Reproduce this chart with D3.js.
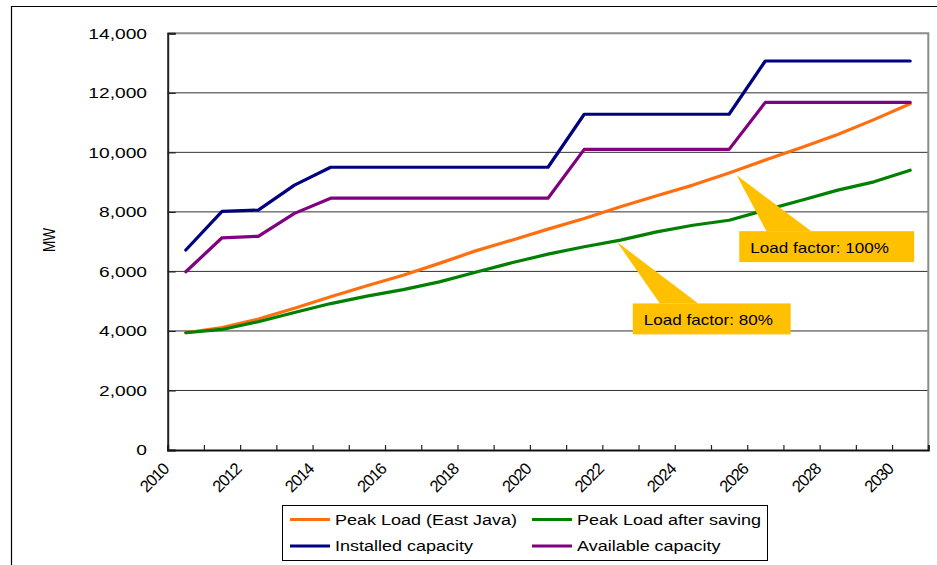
<!DOCTYPE html>
<html>
<head>
<meta charset="utf-8">
<script src="https://cdn.jsdelivr.net/npm/d3@7"></script>
<style>
  html, body { margin: 0; padding: 0; background: #fff; }
  svg { display: block; font-family: "Liberation Sans", Arial, sans-serif; }
</style>
</head>
<body>
<svg id="chart" width="937" height="565"></svg>
<script>
// East Java capacity vs. peak load, 2010-2030 (MW)
const years = d3.range(2010, 2031);
const peakLoad      = [3940, 4110, 4400, 4760, 5150, 5520, 5870, 6270, 6690, 7050, 7420, 7780, 8170, 8540, 8900, 9310, 9740, 10160, 10600, 11100, 11630];
const peakAfterSave = [3940, 4050, 4310, 4620, 4920, 5170, 5390, 5650, 5970, 6290, 6580, 6830, 7050, 7330, 7550, 7720, 8060, 8390, 8730, 9010, 9400];
const installedCap  = [6720, 8020, 8060, 8900, 9500, 9500, 9500, 9500, 9500, 9500, 9500, 11280, 11280, 11280, 11280, 11280, 13070, 13070, 13070, 13070, 13070];
const availableCap  = [5990, 7130, 7180, 7950, 8460, 8460, 8460, 8460, 8460, 8460, 8460, 10100, 10100, 10100, 10100, 10100, 11680, 11680, 11680, 11680, 11680];
const yTicks = [0, 2000, 4000, 6000, 8000, 10000, 12000, 14000];
const xTickLabels = years.filter(y => y % 2 === 0);

const seriesNames  = ["Peak Load (East Java)", "Peak Load after saving", "Installed capacity", "Available capacity"];
const seriesColors = ["#ff6f0f", "#008000", "#000080", "#800080"];
const seriesValues = [peakLoad, peakAfterSave, installedCap, availableCap];

// Callout notes: tip sits on a line (year index, MW); box spans index/MW ranges
const callouts = [
  { text: "Load factor: 100%", tip: [15.21, 9232], box: [15.28, 20.11, 7352, 6312], base: [16.03, 17.27] },
  { text: "Load factor: 80%",  tip: [11.90, 6993], box: [12.34, 16.70, 4925, 3884], base: [13.09, 14.15] }
];

const svg = d3.select("#chart");
const plot = { left: 167.7, right: 928.3, top: 33.3, bottom: 450 };
const FONT_SX = 1.28;   // wide lettering used across the figure

const x = d3.scaleBand().domain(years).range([plot.left, plot.right]).padding(0);
const xc = d => x(d) + x.bandwidth() / 2;
const xi = d3.scaleLinear().domain([0, years.length - 1]).range([xc(years[0]), xc(years[years.length - 1])]);
const y = d3.scaleLinear().domain([0, 14000]).range([plot.bottom, plot.top]);

// outer frame
svg.append("path")
  .attr("d", "M11.5,565 L11.5,6.5 L937,6.5")
  .attr("fill", "none").attr("stroke", "#000").attr("stroke-width", 1.2);

// gridlines
svg.append("g").selectAll("line").data(yTicks.filter(v => v > 0 && v < 14000)).join("line")
  .attr("x1", plot.left).attr("x2", plot.right)
  .attr("y1", d => y(d)).attr("y2", d => y(d))
  .attr("stroke", "#333").attr("stroke-width", 1);

// plot-area border (top and right)
svg.append("path")
  .attr("d", `M${plot.left},${plot.top} L${plot.right},${plot.top} L${plot.right},${plot.bottom}`)
  .attr("fill", "none").attr("stroke", "#8c8c8c").attr("stroke-width", 2);

// y axis
const yAxis = svg.append("g").attr("transform", `translate(${plot.left},0)`)
  .call(d3.axisRight(y).tickValues(yTicks).tickSize(8).tickFormat(""));
yAxis.select(".domain").attr("stroke", "#222").attr("stroke-width", 2);
yAxis.selectAll(".tick line").attr("stroke", "#222").attr("stroke-width", 1.2);

svg.append("g").selectAll("text").data(yTicks).join("text")
  .attr("transform", d => `translate(147,${y(d)}) scale(${FONT_SX},1)`)
  .attr("text-anchor", "end").attr("dy", "0.36em")
  .attr("font-size", 15).attr("fill", "#000")
  .text(d => d3.format(",")(d));

// x axis (category boundaries)
const xAxis = svg.append("g").attr("transform", `translate(0,${plot.bottom})`)
  .call(d3.axisTop(d3.scaleLinear().domain([0, years.length]).range([plot.left, plot.right]))
    .tickValues(d3.range(0, years.length + 1)).tickSize(5).tickFormat(""));
xAxis.select(".domain").attr("stroke", "#111").attr("stroke-width", 2);
xAxis.selectAll(".tick line").attr("stroke", "#222").attr("stroke-width", 1.2);

svg.append("g").selectAll("text").data(xTickLabels).join("text")
  .attr("transform", d => `translate(${x(d) - 2},${plot.bottom + 16}) rotate(-45)`)
  .attr("text-anchor", "end").attr("dy", "0.36em")
  .attr("font-size", 16.5).attr("letter-spacing", -1).attr("fill", "#000")
  .text(d => d);

// y axis title
svg.append("text")
  .attr("transform", `translate(48.5,240) scale(${FONT_SX},1) rotate(-90)`)
  .attr("text-anchor", "middle").attr("dy", "0.36em")
  .attr("font-size", 13.5).text("MW");

// series lines
const line = d3.line().x((d, i) => xc(years[i])).y(d => y(d));
svg.append("g").selectAll("path").data(seriesValues).join("path")
  .attr("d", d => line(d))
  .attr("fill", "none")
  .attr("stroke", (d, i) => seriesColors[i])
  .attr("stroke-width", 3.2)
  .attr("stroke-linejoin", "round")
  .attr("stroke-linecap", "round");

// callouts
const cg = svg.append("g");
callouts.forEach(c => {
  const [i0, i1, v0, v1] = c.box;
  const bx0 = xi(i0), bx1 = xi(i1), by0 = y(v0), by1 = y(v1);
  cg.append("path")
    .attr("d", `M${xi(c.tip[0])},${y(c.tip[1])} L${xi(c.base[1])},${by0} L${xi(c.base[0])},${by0} Z`)
    .attr("fill", "#ffc000");
  cg.append("rect")
    .attr("x", bx0).attr("y", by0).attr("width", bx1 - bx0).attr("height", by1 - by0)
    .attr("fill", "#ffc000");
  cg.append("text")
    .attr("transform", `translate(${bx0 + 11},${(by0 + by1) / 2 + 1}) scale(1.22,1)`)
    .attr("dy", "0.36em").attr("font-size", 14).attr("fill", "#000")
    .text(c.text);
});

// legend
const lg = svg.append("g");
lg.append("rect").attr("x", 282.5).attr("y", 505.5).attr("width", 485).attr("height", 55)
  .attr("fill", "#fff").attr("stroke", "#000").attr("stroke-width", 1);
const legendPos = [[290, 519.5], [532, 519.5], [290, 546], [532, 546]];
seriesNames.forEach((name, i) => {
  const [lx, ly] = legendPos[i];
  lg.append("line").attr("x1", lx).attr("x2", lx + 40).attr("y1", ly).attr("y2", ly)
    .attr("stroke", seriesColors[i]).attr("stroke-width", 3);
  lg.append("text")
    .attr("transform", `translate(${lx + 45},${ly}) scale(1.2,1)`)
    .attr("dy", "0.36em").attr("font-size", 15).attr("fill", "#000")
    .text(name);
});
</script>
</body>
</html>
